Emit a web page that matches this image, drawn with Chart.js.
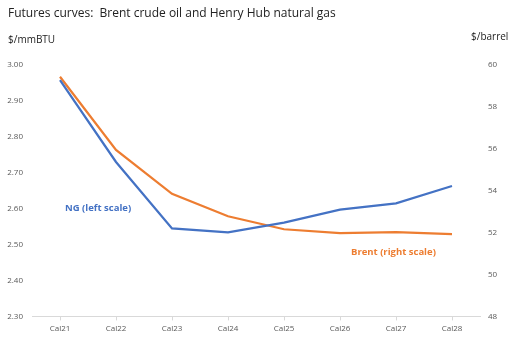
<!DOCTYPE html>
<html lang="en">
<head>
    <meta charset="UTF-8">
    <title>Futures curves</title>
    <script src="https://cdn.jsdelivr.net/npm/chart.js"></script>
    <style>
        body {
            margin: 0;
            font-family: "Open Sans", Arial, sans-serif;
            background: #fff;
        }
        #wrap {
            position: relative;
            width: 516px;
            height: 362px;
        }
        #chart {
            position: absolute;
            left: 0;
            top: 0;
        }
        .txt {
            position: absolute;
            white-space: nowrap;
        }
        #title { left: 8px; top: 4px; font-size: 12px; color: #222; }
        #unitLeft { left: 8px; top: 32px; font-size: 10px; color: #222; }
        #unitRight { left: 471px; top: 29px; font-size: 10px; color: #222; }
        #ngLabel { left: 65px; top: 201px; font-size: 9.5px; font-weight: bold; color: #4472C4; }
        #brentLabel { left: 351px; top: 245px; font-size: 9.5px; font-weight: bold; color: #ED7D31; }
    </style>
</head>
<body>
<div id="wrap">
    <canvas id="chart" width="516" height="362"></canvas>
    <div class="txt" id="title">Futures curves:&nbsp; Brent crude oil and Henry Hub natural gas</div>
    <div class="txt" id="unitLeft">$/mmBTU</div>
    <div class="txt" id="unitRight">$/barrel</div>
    <div class="txt" id="ngLabel">NG (left scale)</div>
    <div class="txt" id="brentLabel">Brent (right scale)</div>
</div>
<script>
    const categories = ['Cal21', 'Cal22', 'Cal23', 'Cal24', 'Cal25', 'Cal26', 'Cal27', 'Cal28'];
    const ngValues = [2.958, 2.730, 2.545, 2.534, 2.561, 2.597, 2.615, 2.663];
    const brentValues = [59.44, 55.95, 53.85, 52.78, 52.16, 51.98, 52.02, 51.93];
    const leftTicks = [2.30, 2.40, 2.50, 2.60, 2.70, 2.80, 2.90, 3.00];
    const rightTicks = [48, 50, 52, 54, 56, 58, 60];

    const tickFont = { family: 'Open Sans', size: 8 };
    const tickColor = '#595959';

    new Chart(document.getElementById('chart'), {
        type: 'line',
        data: {
            labels: categories,
            datasets: [
                {
                    label: 'NG',
                    data: ngValues,
                    yAxisID: 'yLeft',
                    borderColor: '#4472C4',
                    borderWidth: 2.25,
                    pointRadius: 0,
                    tension: 0
                },
                {
                    label: 'Brent',
                    data: brentValues,
                    yAxisID: 'yRight',
                    borderColor: '#ED7D31',
                    borderWidth: 2.25,
                    pointRadius: 0,
                    tension: 0
                }
            ]
        },
        options: {
            responsive: false,
            animation: false,
            layout: { padding: { top: 65, bottom: 24, left: 0, right: 0 } },
            plugins: {
                legend: { display: false },
                tooltip: { enabled: false }
            },
            scales: {
                x: {
                    offset: true,
                    grid: {
                        display: true,
                        drawOnChartArea: false,
                        tickLength: 4,
                        color: '#d9d9d9'
                    },
                    border: { color: '#d9d9d9' },
                    ticks: { font: tickFont, color: tickColor, padding: 4, maxRotation: 0 }
                },
                yLeft: {
                    position: 'left',
                    min: 2.30,
                    max: 3.00,
                    afterBuildTicks: axis => { axis.ticks = leftTicks.map(v => ({ value: v })); },
                    afterFit: axis => { axis.width = 32; },
                    grid: { display: false, drawTicks: false },
                    border: { display: false },
                    ticks: {
                        font: tickFont,
                        color: tickColor,
                        padding: 9,
                        callback: v => v.toFixed(2)
                    }
                },
                yRight: {
                    position: 'right',
                    min: 48,
                    max: 60,
                    afterBuildTicks: axis => { axis.ticks = rightTicks.map(v => ({ value: v })); },
                    afterFit: axis => { axis.width = 36; },
                    grid: { display: false, drawTicks: false },
                    border: { display: false },
                    ticks: { font: tickFont, color: tickColor, padding: 8 }
                }
            }
        }
    });
</script>
</body>
</html>
